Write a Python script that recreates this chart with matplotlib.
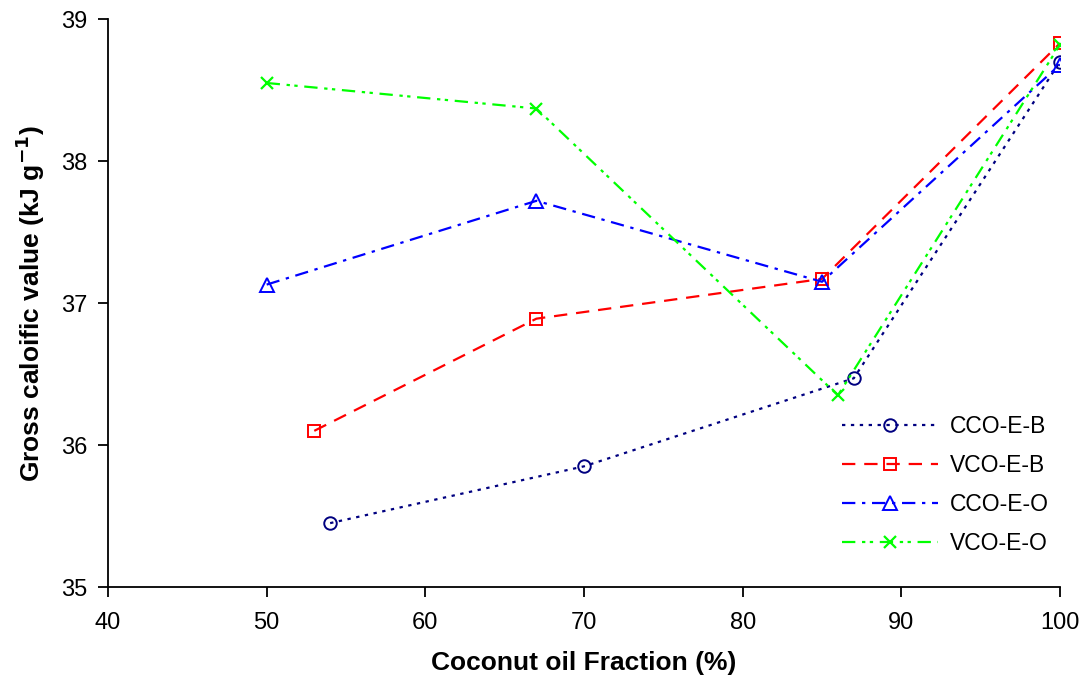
import matplotlib
matplotlib.use("Agg")
import matplotlib.pyplot as plt

plt.rcParams["font.family"] = ["Liberation Sans", "DejaVu Sans"]

# ---------------- Data ----------------
cco_e_b_x = [54, 70, 87, 100]
cco_e_b_y = [35.45, 35.85, 36.47, 38.70]

vco_e_b_x = [53, 67, 85, 100]
vco_e_b_y = [36.10, 36.89, 37.17, 38.83]

cco_e_o_x = [50, 67, 85, 100]
cco_e_o_y = [37.13, 37.72, 37.15, 38.68]

vco_e_o_x = [50, 67, 86, 100]
vco_e_o_y = [38.55, 38.37, 36.35, 38.82]

x_ticks = [40, 50, 60, 70, 80, 90, 100]
y_ticks = [35, 36, 37, 38, 39]

# ---------------- Plot ----------------
fig = plt.figure(figsize=(10.82, 6.81), dpi=100)
ax = fig.add_axes([0.0998, 0.138, 0.8799, 0.834])

ms = 9
ax.plot(cco_e_b_x, cco_e_b_y, color="#000080", ls=(0, (1.5, 2.5)), lw=1.6,
        marker="o", ms=ms, mfc="none", mew=1.4, label="CCO-E-B")
ax.plot(vco_e_b_x, vco_e_b_y, color="#ff0000", ls=(0, (6, 4)), lw=1.6,
        marker="s", ms=ms, mfc="none", mew=1.4, label="VCO-E-B")
ax.plot(cco_e_o_x, cco_e_o_y, color="#0000ff", ls=(0, (6, 3, 1.5, 3)), lw=1.6,
        marker="^", ms=ms + 1, mfc="none", mew=1.4, label="CCO-E-O")
ax.plot(vco_e_o_x, vco_e_o_y, color="#00ff00", ls=(0, (6, 3, 1.5, 2, 1.5, 3)), lw=1.6,
        marker="x", ms=ms, mew=1.6, label="VCO-E-O")

ax.set_xlim(40, 100)
ax.set_ylim(35, 39)
ax.set_xticks(x_ticks)
ax.set_yticks(y_ticks)
ax.tick_params(direction="out", length=7, width=1.3, labelsize=17, pad=8)
ax.tick_params(axis="x", pad=11)

for side in ("top", "right"):
    ax.spines[side].set_visible(False)
for side in ("left", "bottom"):
    ax.spines[side].set_linewidth(1.3)

ax.set_xlabel("Coconut oil Fraction (%)", fontsize=19, fontweight="bold", labelpad=12)
ax.set_ylabel(r"Gross caloific value (kJ g$^{\mathbf{-1}}$)", fontsize=19,
              fontweight="bold", labelpad=10)

ax.legend(loc="lower right", frameon=False, fontsize=16.5, handlelength=4.2,
          labelspacing=0.7, handletextpad=0.5, bbox_to_anchor=(1.01, 0.02))

fig.savefig("out.png", dpi=100)
